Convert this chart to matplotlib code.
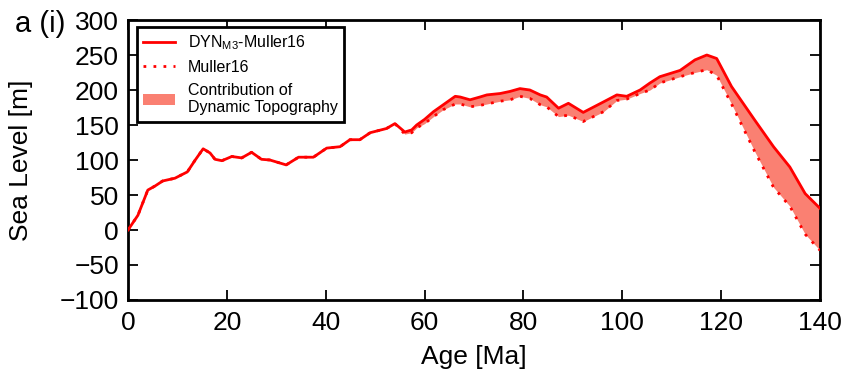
import numpy as np
import matplotlib.pyplot as plt

plt.rcParams['font.family'] = ['Liberation Sans', 'DejaVu Sans']
plt.rcParams['mathtext.fontset'] = 'custom'
plt.rcParams['mathtext.rm'] = 'Liberation Sans'
plt.rcParams['mathtext.it'] = 'Liberation Sans'

# age grid (Ma) and sea level curves (m)
age = [0, 2, 4, 5.5, 7, 9.5, 12, 13.6, 15.2, 16.6, 17.6, 19, 21, 23, 25, 27, 28.7,
       32, 34.5, 37.5, 40.2, 42.9, 44.9, 46.9, 49, 52.3, 54, 56, 57.4, 58.4, 60,
       61.8, 63.8, 66.2, 67.2, 69.2, 71.2, 72.6, 75.3, 77.3, 79.3, 81.3, 83.4,
       84.7, 87.1, 89.1, 92.1, 96.2, 98.9, 100.9, 103.6, 105.6, 107.6, 111.7,
       114.7, 117.1, 119.1, 122.1, 126.8, 130.6, 133.9, 137, 140]

dyn_m3 = [0, 21, 57, 63, 70, 74, 83, 100, 116, 110, 101, 99, 105, 103, 111, 101, 100,
          93, 104, 104, 117, 119, 129, 129, 139, 145, 152, 140, 143, 150, 158,
          169, 179, 191, 190, 186, 190, 193, 195, 198, 202, 200, 193,
          190, 174, 181, 168, 183, 193, 191, 200, 210, 219, 228,
          243, 250, 245, 205, 157, 119, 90, 52, 31]

muller16 = [0, 21, 57, 63, 70, 74, 83, 100, 116, 110, 101, 99, 105, 103, 111, 101, 100,
            93, 104, 104, 117, 119, 129, 129, 139, 145, 152, 137, 139, 146, 152,
            162, 172, 180, 180, 176, 178, 180, 184, 186, 191, 188, 179,
            176, 162, 164, 155, 169, 185, 187, 195, 200, 210, 219,
            225, 229, 221, 180, 112, 61, 34, -6, -29]

age = np.array(age)
dyn_m3 = np.array(dyn_m3)
muller16 = np.array(muller16)

fig = plt.figure(figsize=(8.45, 3.81), dpi=100)
ax = fig.add_axes([0.1515, 0.2126, 0.8189, 0.7349])

ax.plot(age, dyn_m3, color='red', lw=2, label='DYN$_{\\mathrm{M3}}$-Muller16', zorder=3)
ax.plot(age, muller16, color='red', lw=2, dashes=(1, 2.6),
        label='Muller16', zorder=3)
ax.fill_between(age, muller16, dyn_m3, color='salmon', lw=0,
                label='Contribution of\nDynamic Topography', zorder=2)

ax.set_xlim(0, 140)
ax.set_ylim(-100, 300)
ax.set_xticks(np.arange(0, 141, 20))
ax.set_yticks(np.arange(-100, 301, 50))
ax.tick_params(direction='in', top=True, right=True, length=7, width=1.3,
               labelsize=19)
ax.tick_params(axis='x', pad=8)
ax.tick_params(axis='y', pad=6.5)
for s in ax.spines.values():
    s.set_linewidth(2)

ax.set_xlabel('Age [Ma]', fontsize=19)
ax.set_ylabel('Sea Level [m]', fontsize=19)
ax.xaxis.set_label_coords(0.5, -0.16)
ax.yaxis.set_label_coords(-0.138, 0.5)

leg = ax.legend(loc='upper left', fontsize=11.5, fancybox=False, framealpha=1,
                edgecolor='black', handlelength=2, borderaxespad=0,
                labelspacing=0.5, bbox_to_anchor=(0.013, 0.975))
leg.get_frame().set_linewidth(2)

fig.text(0.018, 0.975, 'a (i)', fontsize=21, va='top', ha='left')

fig.savefig('out.png', dpi=100)
